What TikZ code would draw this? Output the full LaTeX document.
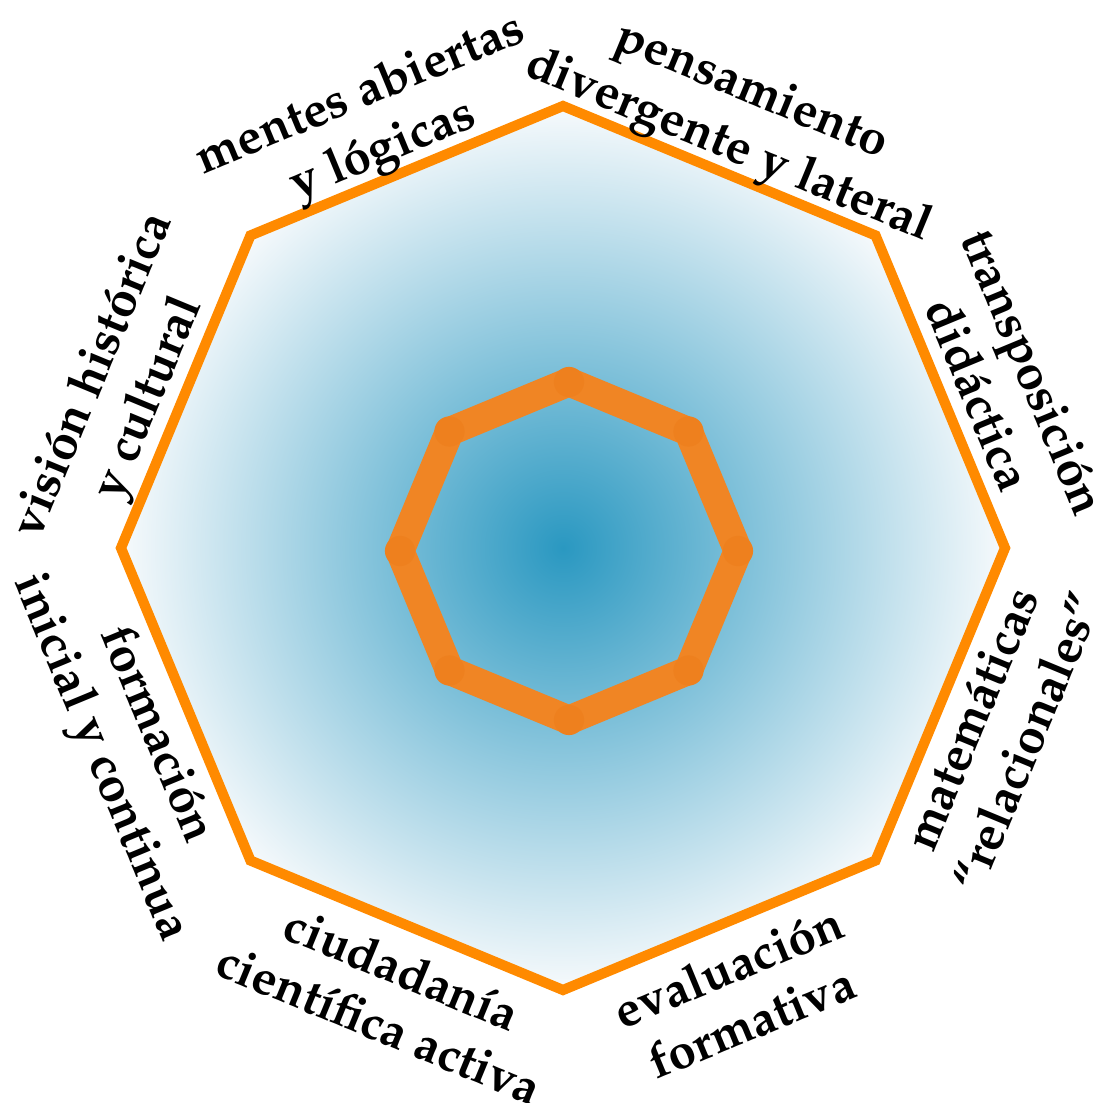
\documentclass[tikz,border=0pt]{standalone}
\usepackage[T1]{fontenc}
\usepackage{tikz}

\definecolor{rimorange}{RGB}{255,138,0}
\definecolor{coreorange}{RGB}{240,133,36}
\definecolor{joinorange}{RGB}{238,128,30}
\definecolor{glowblue}{RGB}{42,152,193}
\definecolor{glowrim}{RGB}{247,250,252}

\begin{document}
\begin{tikzpicture}[every node/.style={font=\fontfamily{ppl}\fontseries{b}\fontsize{14}{17}\selectfont, align=center, inner sep=0pt}]
	\useasboundingbox (0,0) rectangle (11.05,11.02);
	\begin{scope}[shift={(5.63,5.54)}]
		% outer octagon with glow
		\shade[inner color=glowblue, outer color=glowrim] (90:4.42) -- (45:4.42) -- (0:4.42) -- (-45:4.42) -- (-90:4.42) -- (-135:4.42) -- (180:4.42) -- (135:4.42) -- cycle;
		\draw[rimorange, line width=2.9pt] (90:4.42) -- (45:4.42) -- (0:4.42) -- (-45:4.42) -- (-90:4.42) -- (-135:4.42) -- (180:4.42) -- (135:4.42) -- cycle;
		% labels
		\node[rotate=-22.5] (pens) at (67.6:4.63) {pensamiento\\divergente y lateral};
		\node[rotate=-67.5] (trans) at (20.4:4.73) {transposici\'on\\did\'actica};
		\node[rotate=67.5] (mate) at (-22.7:4.72) {matem\'aticas\\``relacionales''};
		\node[rotate=22.5] (eval) at (-68.4:4.80) {evaluaci\'on\\formativa};
		\node[rotate=-22.5] (ciud) at (-111:4.80) {ciudadan\'{\i}a\\cient\'{\i}fica activa};
		\node[rotate=-67.5] (form) at (-155.5:4.79) {formaci\'on\\inicial y continua};
		\node[rotate=67.5] (vis) at (160:4.69) {visi\'on hist\'orica\\y cultural};
		\node[rotate=22.5] (ment) at (114.2:4.65) {mentes abiertas\\y l\'ogicas};
	\end{scope}
	% inner octagon
	\begin{scope}[shift={(5.69,5.51)}]
		\draw[coreorange, line width=8.2pt, line join=round] (90:1.69) -- (45:1.69) -- (0:1.69) -- (-45:1.69) -- (-90:1.69) -- (-135:1.69) -- (180:1.69) -- (135:1.69) -- cycle;
		\foreach \a in {0,45,...,315}
			\fill[joinorange] (\a:1.69) circle (4.3pt);
	\end{scope}
\end{tikzpicture}
\end{document}
